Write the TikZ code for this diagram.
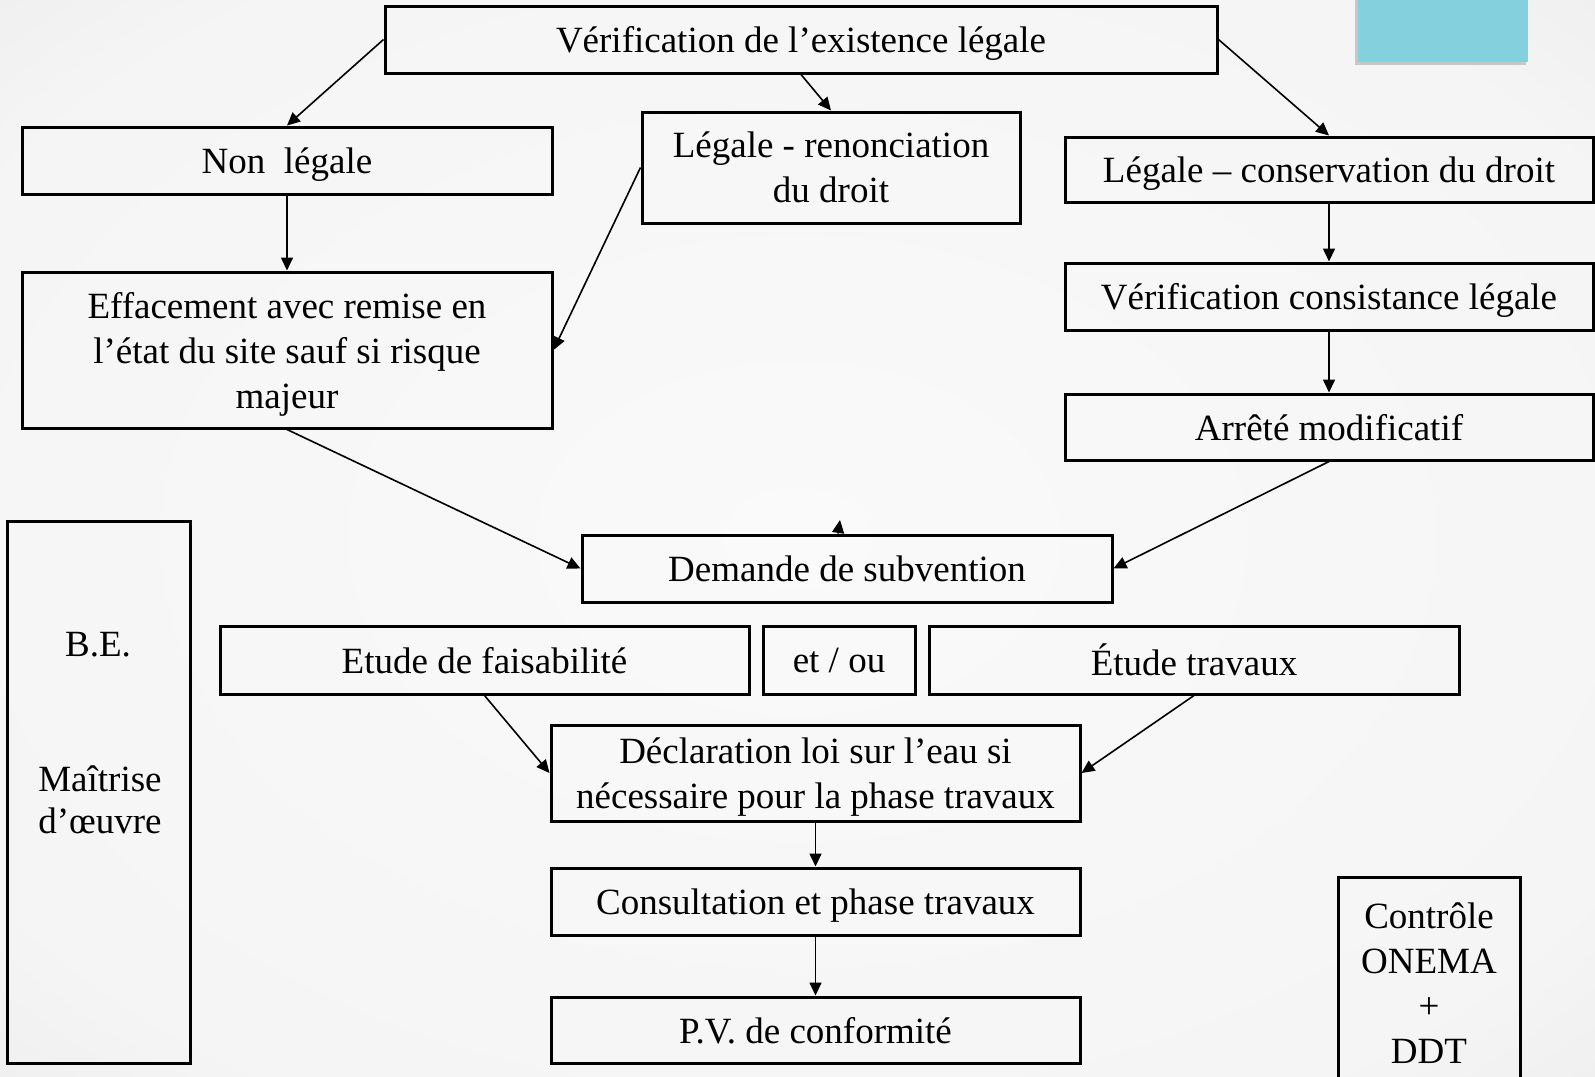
\documentclass[tikz,border=0pt]{standalone}
\usepackage{fontspec}
\setmainfont{Liberation Serif}
\usepackage{xcolor}
\usetikzlibrary{arrows.meta}
\definecolor{tealbox}{RGB}{132,208,220}
\pgfdeclareradialshading{bgglow}{\pgfpoint{0bp}{0bp}}{color(0bp)=(black!2); color(30bp)=(black!4); color(50bp)=(black!11)}

\begin{document}
\begin{tikzpicture}[x=0.5pt,y=-0.5pt,%
% common options for the boxes:
box/.style = {draw, line width=1.5pt, rectangle, align=center, inner sep=2pt,
            text depth=0pt, font=\fontsize{18.5}{22.5}\selectfont},
% common options for the arrows:
arr/.style = {-{Triangle[length=6.5pt,width=6pt]}, line width=0.8pt}]
\useasboundingbox (0,0) rectangle (1595,1076);
\shade[shading=bgglow] (0,0) rectangle (1595,1076);
\fill[black!22] (1355,-5) rectangle (1526,65);
\fill[tealbox] (1358,-5) rectangle (1528,62);
\node[box,minimum width=416pt,minimum height=33.5pt] (V0) at (801,39.5) {Vérification de l’existence légale};
\node[box,minimum width=265pt,minimum height=33.5pt] (L1) at (287,160.5) {Non\ \ légale};
\node[box,minimum width=189pt,minimum height=55.5pt] (M1) at (831,167.5) {Légale - renonciation\\du droit};
\node[box,minimum width=264pt,minimum height=32.5pt] (R1) at (1329,169.5) {Légale – conservation du droit};
\node[box,minimum width=264pt,minimum height=33.5pt] (R2) at (1329,296.5) {Vérification consistance légale};
\node[box,minimum width=264pt,minimum height=33pt] (R3) at (1329,427) {Arrêté modificatif};
\node[box,minimum width=265pt,minimum height=78pt] (L2) at (287,350) {Effacement avec remise en\\l’état du site sauf si risque\\majeur};
\node[box,minimum width=265pt,minimum height=33.5pt] (D0) at (847,568.5) {Demande de subvention};
\node[box,minimum width=264.5pt,minimum height=34pt] (E1) at (484.5,660) {Etude de faisabilité};
\node[box,minimum width=76pt,minimum height=34pt] (E2) at (839,660) {et / ou};
\node[box,minimum width=265pt,minimum height=34pt] (E3) at (1194,660) {Étude travaux};
\node[box,minimum width=264.5pt,minimum height=48pt] (S1) at (815.5,773) {Déclaration loi sur l’eau si\\nécessaire pour la phase travaux};
\node[box,minimum width=264.5pt,minimum height=33.5pt] (S2) at (815.5,901.5) {Consultation et phase travaux};
\node[box,minimum width=264.5pt,minimum height=33pt] (S3) at (815.5,1030) {P.V. de conformité};
\node[box,minimum width=91.5pt,minimum height=271pt] (BE) at (98.5,792) {};
\node[font=\fontsize{18.5}{22.5}\selectfont,anchor=base] (BE1) at (98,656) {B.E.};
\node[font=\fontsize{18.5}{21}\selectfont,align=center] (BE2) at (100,800) {Maîtrise\\d’œuvre};
\node[box,minimum width=91pt,minimum height=106.5pt] (C0) at (1429,983.5) {Contrôle\\ONEMA\\+\\DDT};
\coordinate (Dtip) at (840,520);
\draw[arr] (V0.west) to (L1.north);
\draw[arr] (V0.south) to (M1.north);
\draw[arr] (V0.east) to (R1.north);
\draw[arr] (L1.south) to (L2.north);
\draw[arr] (M1.west) to (L2.east);
\draw[arr] (R1.south) to (R2.north);
\draw[arr] (R2.south) to (R3.north);
\draw[arr] (L2.south) to (D0.west);
\draw[arr] (R3.south) to (D0.east);
\draw[arr] ([xshift=-4.5pt]D0.north) to (Dtip);
\draw[arr] (E1.south) to (S1.west);
\draw[arr] (E3.south) to (S1.east);
\draw[arr] (S1.south) to (S2.north);
\draw[arr] (S2.south) to (S3.north);
\end{tikzpicture}
\end{document}
